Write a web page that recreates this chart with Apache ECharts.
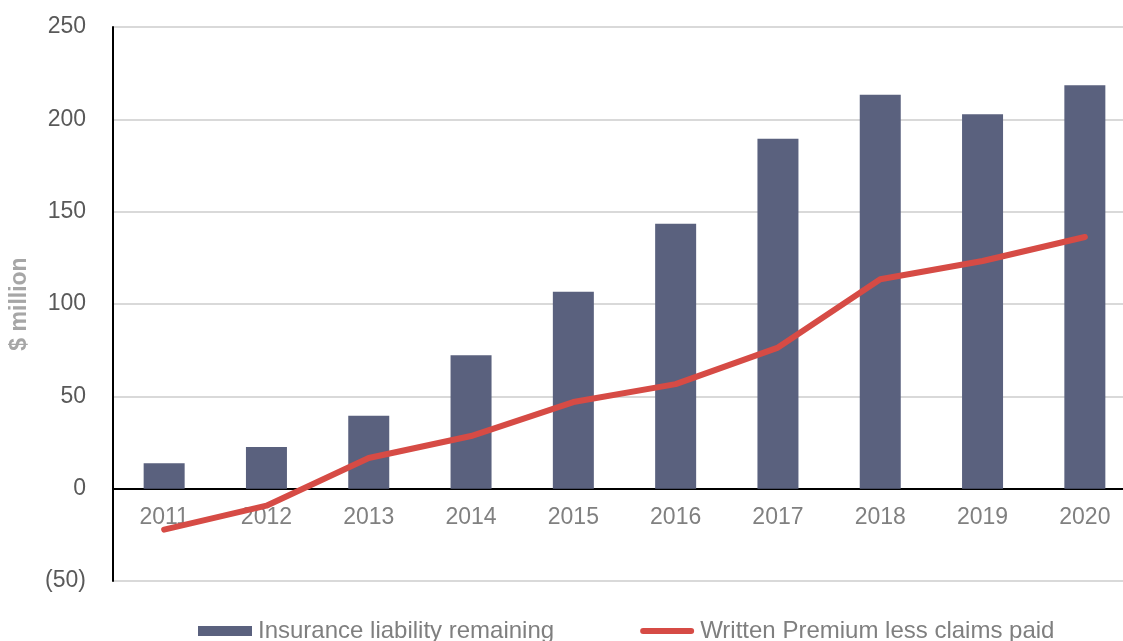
<!DOCTYPE html>
<html>
<head>
<meta charset="utf-8">
<script src="https://cdn.jsdelivr.net/npm/echarts@6/dist/echarts.min.js"></script>
<style>
  html, body { margin: 0; padding: 0; background: #fff; overflow: hidden; }
  /* plot area runs a little past the right edge, like the source image */
  #chart { width: 1136px; height: 641px; }
</style>
</head>
<body>
<div id="chart"></div>
<script>
const years = ["2011", "2012", "2013", "2014", "2015", "2016", "2017", "2018", "2019", "2020"];
const liabilityRemaining = [13.7, 22.6, 39.5, 72.2, 106.7, 143.5, 189.5, 213.3, 202.7, 218.4];
const premiumLessClaims = [-22.2, -9.2, 16.6, 28.5, 46.9, 56.6, 76.4, 113.4, 123.3, 136.3];

const font = "'Liberation Sans', Arial, sans-serif";
const chart = echarts.init(document.getElementById("chart"));

chart.setOption({
  animation: false,
  textStyle: { fontFamily: font },
  grid: { left: 110, right: 0, top: 27, bottom: 60, containLabel: false },
  legend: {
    left: 198,
    top: 619,
    padding: 0,
    itemGap: 86,
    itemWidth: 54,
    itemHeight: 10,
    textStyle: { fontSize: 24, color: "#7f7f7f", fontFamily: font, padding: [0, 0, 0, 1] },
    data: [
      { name: "Insurance liability remaining", icon: "rect" },
      {
        name: "Written Premium less claims paid",
        icon: "path://M3,0 L51,0 A3,3 0 0 1 51,6 L3,6 A3,3 0 0 1 3,0 Z"
      }
    ]
  },
  xAxis: {
    type: "category",
    data: years,
    axisLine: { onZero: true, lineStyle: { color: "#000", width: 2 } },
    axisTick: { show: false },
    // labels sit just under the zero line, not at the bottom of the grid
    axisLabel: { color: "#808080", fontSize: 23, margin: -75, fontFamily: font }
  },
  yAxis: {
    type: "value",
    min: -50,
    max: 250,
    interval: 50,
    name: "$ million",
    nameLocation: "middle",
    nameGap: 82,
    nameTextStyle: { color: "#a6a6a6", fontSize: 23, fontWeight: "bold", fontFamily: font },
    axisLine: { show: true, lineStyle: { color: "#000", width: 2 } },
    axisTick: { show: false },
    axisLabel: {
      color: "#595959",
      fontSize: 23,
      margin: 27,
      fontFamily: font,
      formatter: v => (v < 0 ? "(" + Math.abs(v) + ")" : String(v))
    },
    splitLine: { lineStyle: { color: "#d9d9d9", width: 2 } }
  },
  series: [
    {
      name: "Insurance liability remaining",
      type: "bar",
      data: liabilityRemaining,
      barWidth: 41,
      itemStyle: { color: "#5a617e" }
    },
    {
      name: "Written Premium less claims paid",
      type: "line",
      data: premiumLessClaims,
      symbol: "none",
      lineStyle: { color: "#d64b45", width: 6, cap: "round", join: "round" },
      itemStyle: { color: "#d64b45" }
    }
  ]
});
</script>
</body>
</html>
